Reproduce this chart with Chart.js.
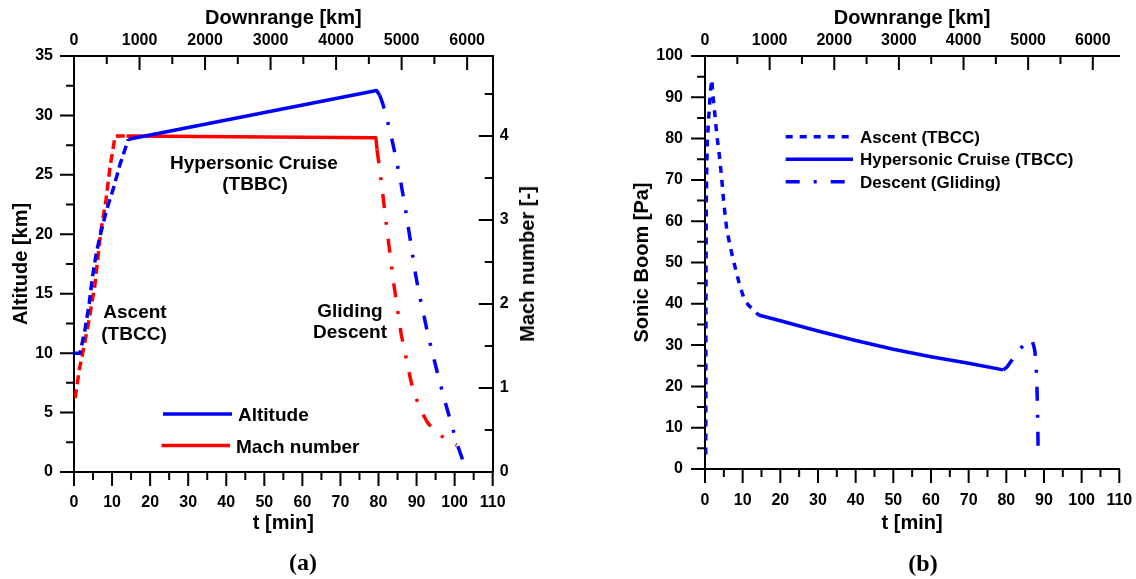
<!DOCTYPE html>
<html>
<head>
<meta charset="utf-8">
<script src="https://cdn.jsdelivr.net/npm/chart.js@4.4.1/dist/chart.umd.min.js"></script>
<style>
  body { margin: 0; background: #fff; }
  #wrap { position: relative; width: 1136px; height: 579px; overflow: hidden;
          font-family: 'Liberation Sans', Arial, sans-serif; font-weight: bold; color: #000; }
  canvas { position: absolute; top: 0; }
  .t { position: absolute; white-space: nowrap; line-height: 1; }
  .c { transform: translate(-50%, -50%); text-align: center; }
  .l { transform: translateY(-50%); }
  .cap { font-family: 'Liberation Serif', 'Times New Roman', serif; font-size: 24px; }
</style>
</head>
<body>
<div id="wrap">
  <canvas id="chartA" width="568" height="579" style="left:0"></canvas>
  <canvas id="chartB" width="568" height="579" style="left:568px"></canvas>

  <div class="t c" style="left:254px;top:162px;font-size:19px">Hypersonic Cruise</div>
  <div class="t c" style="left:255px;top:183px;font-size:19px">(TBBC)</div>
  <div class="t c" style="left:135px;top:311px;font-size:19px">Ascent</div>
  <div class="t c" style="left:134px;top:333px;font-size:19px">(TBCC)</div>
  <div class="t c" style="left:350px;top:310px;font-size:19px">Gliding</div>
  <div class="t c" style="left:350px;top:331px;font-size:19px">Descent</div>
  <div class="t l" style="left:238px;top:414px;font-size:19px">Altitude</div>
  <div class="t l" style="left:236px;top:446px;font-size:19px">Mach number</div>
  <div class="t c" style="left:527px;top:264px;font-size:20px;transform:translate(-50%,-50%) rotate(-90deg)">Mach number [-]</div>
  <div class="t c cap" style="left:303px;top:562px">(a)</div>

  <div class="t l" style="left:860px;top:137px;font-size:17px">Ascent (TBCC)</div>
  <div class="t l" style="left:860px;top:159px;font-size:17px">Hypersonic Cruise (TBCC)</div>
  <div class="t l" style="left:860px;top:182px;font-size:17px">Descent (Gliding)</div>
  <div class="t c cap" style="left:923px;top:563px">(b)</div>
</div>
<script>
// (a) altitude [km] over t [min]
const altAscT = [0, 1.6, 2.9, 4.0, 4.8, 5.8, 6.8, 8.6, 10.3, 12.1, 14.3];
const altAsc = [10, 10, 12.0, 14.2, 16.3, 18.3, 19.8, 22.1, 23.8, 25.9, 28.0];
const altCruiseT = [14.3, 79.5, 80.3];
const altCruise = [28.0, 32.1, 31.7];
const altDescT = [80.3, 81, 82, 83.3, 84.6, 85.9, 87.2, 88.5, 89.6, 90.6, 91.9, 93.1, 94.5, 95.9, 97.5, 99.1, 100.8, 102.8];
const altDesc = [31.7, 31.1, 30.0, 28.3, 26.4, 24.3, 21.9, 19.2, 16.9, 15.1, 13.2, 11.4, 9.6, 7.8, 5.9, 4.1, 2.2, 0.4];

// (a) Mach number [-] over t [min]
const machAscT = [0.3, 1.4, 2.3, 3.8, 5.5, 7.0, 8.4, 9.5, 10.8, 13.8];
const machAsc = [0.88, 1.22, 1.42, 1.77, 2.23, 2.85, 3.24, 3.64, 4.0, 4.0];
const machCruiseT = [13.8, 79.3, 79.6];
const machCruise = [4.0, 3.98, 3.84];
const machDescT = [79.6, 80.2, 81.0, 81.8, 82.6, 83.4, 84.2, 85.0, 86.0, 87.0, 87.8, 89.0, 90.2, 91.5, 93.0, 94.5, 96.5, 98.5, 100.5];
const machDesc = [3.84, 3.64, 3.35, 3.05, 2.75, 2.45, 2.18, 1.93, 1.63, 1.42, 1.23, 0.99, 0.84, 0.70, 0.58, 0.51, 0.43, 0.37, 0.32];

// (b) sonic boom [Pa] over t [min]
const boomAscT = [0.2, 0.22, 0.25, 0.3, 0.35, 0.45, 0.6, 0.9, 1.2, 1.4, 1.8, 2.1, 2.5, 3.1, 3.8, 4.4, 5.0, 5.8, 7.1, 8.2, 9.2, 10.2, 11.5, 12.8, 14.2];
const boomAsc = [3.5, 20, 40, 55, 65, 72, 79, 84, 88, 91, 94.3, 90.5, 87, 81.2, 76, 70.7, 64.3, 57.8, 52.2, 48.1, 44.5, 41.7, 39.7, 38.6, 37.3];
const boomCruiseT = [14.2, 20, 30, 40, 50, 60, 70, 79.2];
const boomCruise = [37.3, 35.9, 33.4, 31.1, 29.0, 27.2, 25.6, 24.0];
const boomDescT = [79.2, 80.1, 81.2, 82.4, 83.6, 85.0, 86.3, 86.8, 87.3, 87.6, 87.9, 88.1, 88.2, 88.3, 88.4, 88.45];
const boomDesc = [24.0, 24.6, 26.0, 27.6, 29.0, 30.4, 31.4, 31.2, 29.8, 28.4, 25.0, 21.0, 17.5, 13.8, 8.0, 3.0];

// tick labels
const timeTicks = [0, 10, 20, 30, 40, 50, 60, 70, 80, 90, 100, 110];
const downrangeTicks = [0, 1000, 2000, 3000, 4000, 5000, 6000];
const altTicks = [0, 5, 10, 15, 20, 25, 30, 35];
const machTicks = [0, 1, 2, 3, 4];
const boomTicks = [0, 10, 20, 30, 40, 50, 60, 70, 80, 90, 100];

const downrangeMaxA = 6390;
const downrangeMaxB = 6410;
const machMax = 4.952;

const BLUE = '#0000ff', RED = '#ff0000';
const dashAsc = [9, 5];
const dotAsc = [7, 7];
const dashDesc = [14, 14, 3, 14];

Chart.defaults.font.family = "'Liberation Sans', Arial, sans-serif";
const tickFont = { size: 16, weight: 'bold' };
const titleFont = { size: 20, weight: 'bold' };
const noGrid = { display: false, drawTicks: false };
const axisLine = { display: true, width: 2, color: '#000' };
const plain = v => String(v);
const fixTicks = list => s => { s.ticks = list.map(v => ({ value: v })); };

function series(ts, vs, color, dash, yAxisID) {
  return {
    data: ts.map((t, i) => ({ x: t, y: vs[i] })),
    borderColor: color, borderWidth: 3.5, borderDash: dash,
    borderCapStyle: 'butt', borderJoinStyle: 'round',
    pointRadius: 0, tension: 0, fill: false, xAxisID: 'x', yAxisID
  };
}

// minor + major tick marks: out on left/bottom, in on top/right
const tickMarks = {
  id: 'tickMarks',
  beforeDatasetsDraw(chart, args, opts) {
    const ctx = chart.ctx, a = chart.chartArea;
    ctx.save();
    ctx.strokeStyle = '#000';
    ctx.lineWidth = 2;
    ctx.beginPath();
    for (const s of opts.axes) {
      const sc = chart.scales[s.id];
      for (let k = 0; k * s.minor <= sc.max + 1e-9; k++) {
        const p = sc.getPixelForValue(k * s.minor);
        const len = k % 2 === 0 ? 14 : 8;
        if (s.edge === 'left') { ctx.moveTo(a.left - len, p); ctx.lineTo(a.left, p); }
        if (s.edge === 'right') { ctx.moveTo(a.right - len, p); ctx.lineTo(a.right, p); }
        if (s.edge === 'bottom') { ctx.moveTo(p, a.bottom); ctx.lineTo(p, a.bottom + len); }
        if (s.edge === 'top') { ctx.moveTo(p, a.top); ctx.lineTo(p, a.top + len); }
      }
    }
    ctx.stroke();
    ctx.restore();
  }
};

// legend sample lines
const legendLines = {
  id: 'legendLines',
  afterDatasetsDraw(chart, args, opts) {
    const ctx = chart.ctx;
    ctx.save();
    ctx.lineWidth = 3.5;
    for (const r of opts.rows) {
      ctx.strokeStyle = r.color;
      ctx.setLineDash(r.dash);
      ctx.beginPath();
      ctx.moveTo(r.x0, r.y);
      ctx.lineTo(r.x1, r.y);
      ctx.stroke();
    }
    ctx.restore();
  }
};

const common = {
  responsive: false, animation: false, devicePixelRatio: 1, events: [],
};

new Chart(document.getElementById('chartA'), {
  type: 'line',
  data: {
    datasets: [
      series(altAscT, altAsc, BLUE, dashAsc, 'y'),
      series(altCruiseT, altCruise, BLUE, [], 'y'),
      series(altDescT, altDesc, BLUE, dashDesc, 'y'),
      series(machAscT, machAsc, RED, dashAsc, 'y2'),
      series(machCruiseT, machCruise, RED, [], 'y2'),
      series(machDescT, machDesc, RED, dashDesc, 'y2')
    ]
  },
  options: {
    ...common,
    layout: { padding: 0 },
    plugins: {
      legend: { display: false }, tooltip: { enabled: false },
      tickMarks: { axes: [
        { id: 'x', minor: 5, edge: 'bottom' },
        { id: 'x2', minor: 500, edge: 'top' },
        { id: 'y', minor: 2.5, edge: 'left' },
        { id: 'y2', minor: 0.5, edge: 'right' }
      ] },
      legendLines: { rows: [
        { color: BLUE, dash: [], x0: 163, x1: 232, y: 414 },
        { color: RED, dash: [], x0: 161.5, x1: 230, y: 445.5 }
      ] }
    },
    scales: {
      x: {
        type: 'linear', position: 'bottom', min: 0, max: 110,
        afterBuildTicks: fixTicks(timeTicks),
        ticks: { padding: 21, font: tickFont, color: '#000', autoSkip: false, maxRotation: 0, callback: plain },
        grid: noGrid, border: axisLine,
        title: { display: true, text: 't [min]', font: titleFont, color: '#000', padding: { top: 0, bottom: 44 } },
        afterFit: s => { s.height = 107; s.paddingLeft = 0; s.paddingRight = 0; }
      },
      x2: {
        type: 'linear', position: 'top', min: 0, max: downrangeMaxA,
        afterBuildTicks: fixTicks(downrangeTicks),
        ticks: { padding: 6, font: tickFont, color: '#000', autoSkip: false, maxRotation: 0, callback: plain },
        grid: noGrid, border: axisLine,
        title: { display: true, text: 'Downrange [km]', font: titleFont, color: '#000', padding: { top: 6, bottom: 0 } },
        afterFit: s => { s.height = 56; s.paddingLeft = 0; s.paddingRight = 0; }
      },
      y: {
        type: 'linear', position: 'left', min: 0, max: 35,
        afterBuildTicks: fixTicks(altTicks),
        ticks: { padding: 21, font: tickFont, color: '#000', callback: plain },
        grid: noGrid, border: axisLine,
        title: { display: true, text: 'Altitude [km]', font: titleFont, color: '#000', padding: { top: 9, bottom: 0 } },
        afterFit: s => { s.width = 74; s.paddingTop = 0; s.paddingBottom = 0; }
      },
      y2: {
        type: 'linear', position: 'right', min: 0, max: machMax,
        afterBuildTicks: fixTicks(machTicks),
        ticks: { padding: 7, font: tickFont, color: '#000', callback: plain },
        grid: noGrid, border: axisLine,
        afterFit: s => { s.width = 75.3; s.paddingTop = 0; s.paddingBottom = 0; }
      }
    }
  },
  plugins: [tickMarks, legendLines]
});

new Chart(document.getElementById('chartB'), {
  type: 'line',
  data: {
    datasets: [
      series(boomAscT, boomAsc, BLUE, dotAsc, 'y'),
      series(boomCruiseT, boomCruise, BLUE, [], 'y'),
      series(boomDescT, boomDesc, BLUE, dashDesc, 'y')
    ]
  },
  options: {
    ...common,
    layout: { padding: { left: 0, top: 0, bottom: 0, right: 16.7 } },
    plugins: {
      legend: { display: false }, tooltip: { enabled: false },
      tickMarks: { axes: [
        { id: 'x', minor: 5, edge: 'bottom' },
        { id: 'x2', minor: 500, edge: 'top' },
        { id: 'y', minor: 5, edge: 'left' }
      ] },
      legendLines: { rows: [
        { color: BLUE, dash: dotAsc, x0: 217.7, x1: 282, y: 136.7 },
        { color: BLUE, dash: [], x0: 217.7, x1: 285, y: 159.3 },
        { color: BLUE, dash: dashDesc, x0: 217.7, x1: 285, y: 181.7 }
      ] }
    },
    scales: {
      x: {
        type: 'linear', position: 'bottom', min: 0, max: 110,
        afterBuildTicks: fixTicks(timeTicks),
        ticks: { padding: 22, font: tickFont, color: '#000', autoSkip: false, maxRotation: 0, callback: plain },
        grid: noGrid, border: axisLine,
        title: { display: true, text: 't [min]', font: titleFont, color: '#000', padding: { top: 0, bottom: 44 } },
        afterFit: s => { s.height = 110; s.paddingLeft = 0; s.paddingRight = 0; }
      },
      x2: {
        type: 'linear', position: 'top', min: 0, max: downrangeMaxB,
        afterBuildTicks: fixTicks(downrangeTicks),
        ticks: { padding: 6, font: tickFont, color: '#000', autoSkip: false, maxRotation: 0, callback: plain },
        grid: noGrid, border: axisLine,
        title: { display: true, text: 'Downrange [km]', font: titleFont, color: '#000', padding: { top: 6, bottom: 0 } },
        afterFit: s => { s.height = 56; s.paddingLeft = 0; s.paddingRight = 0; }
      },
      y: {
        type: 'linear', position: 'left', min: 0, max: 100,
        afterBuildTicks: fixTicks(boomTicks),
        ticks: { padding: 22, font: tickFont, color: '#000', callback: plain },
        grid: noGrid, border: axisLine,
        title: { display: true, text: 'Sonic Boom [Pa]', font: titleFont, color: '#000', padding: { top: 62, bottom: 0 } },
        afterFit: s => { s.width = 137; s.paddingTop = 0; s.paddingBottom = 0; }
      }
    }
  },
  plugins: [tickMarks, legendLines]
});
</script>
</body>
</html>
